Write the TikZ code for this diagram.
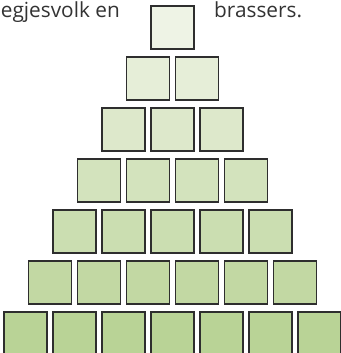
\documentclass[tikz,border=0pt]{standalone}
\usepackage{fontspec}
\setmainfont{Open Sans}
\definecolor{toprow}{HTML}{EEF3E5}
\definecolor{botrow}{HTML}{B9D396}
\definecolor{edge}{HTML}{2E2E2E}

\begin{document}
\begin{tikzpicture}[x=1pt,y=-1pt,
    brick/.style={draw=edge,line width=1.8pt,minimum size=43pt,inner sep=0pt},
    words/.style={font=\fontsize{20.8}{24}\selectfont,text=black!80,inner sep=0pt}]
    \useasboundingbox (0,0) rectangle (340,353);
    \foreach \r in {0,...,6} {
      \pgfmathtruncatemacro{\p}{\r*100/6}
      \foreach \k in {0,...,\r} {
        \node[brick,fill=botrow!\p!toprow] (sq-\r-\k)
          at ({172.5+(\k-\r/2)*49},{27.5+\r*51}) {};
      }
    }
    \node[words,anchor=base east] (left) at (120,18) {egjesvolk en};
    \node[words,anchor=base west] (right) at (214,18) {brassers.};
  \end{tikzpicture}
\end{document}
